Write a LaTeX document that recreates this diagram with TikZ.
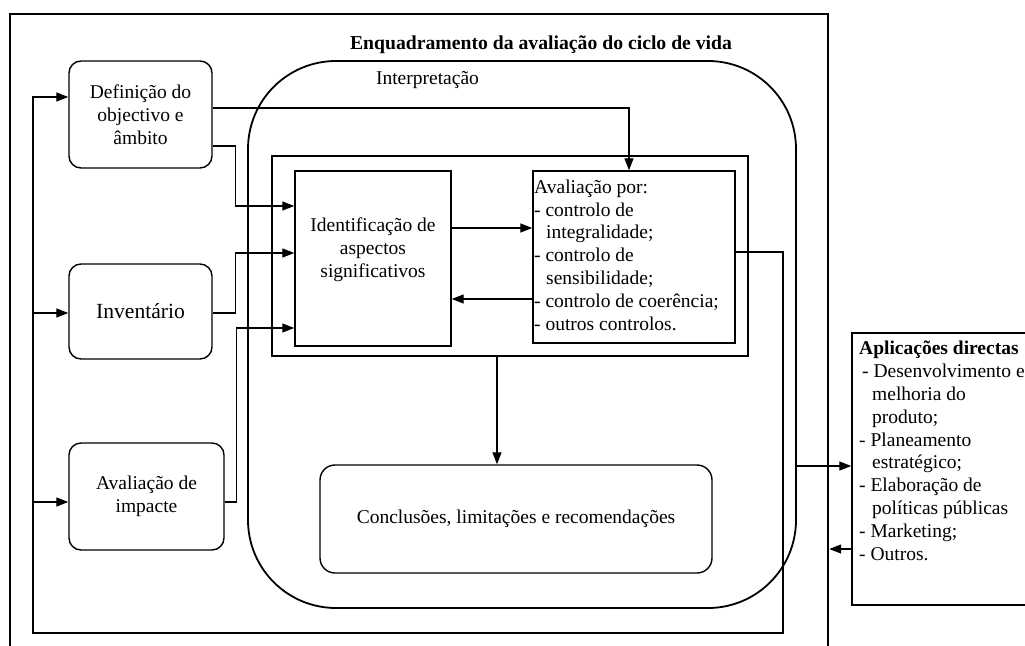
\documentclass[tikz,border=0pt]{standalone}
\usepackage{fontspec}
\setmainfont{Liberation Serif}
\usetikzlibrary{arrows.meta,calc}
\begin{document}
\begin{tikzpicture}[x=1pt,y=-1pt,
  txt/.style={font=\fontsize{19.5}{22.8}\selectfont, inner sep=0pt},
  arr/.style={-{Triangle[length=12pt,width=9pt]}, line width=1.3pt},
  rbox/.style={draw, line width=1.4pt, rounded corners=12pt, txt, align=center},
  sbox/.style={draw, line width=1.4pt, inner sep=0pt},
]
\clip (0,0) rectangle (1025,645);
\fill[white] (0,0) rectangle (1025,645);

% outer frame
\node[draw, line width=2.4pt, minimum width=818pt, minimum height=646pt, inner sep=0pt] (outer) at (419,337) {};
\node[txt, anchor=base, font=\fontsize{19.7}{22.8}\selectfont\bfseries] (title) at (541,49) {Enquadramento da avaliação do ciclo de vida};

% interpretation rounded frame
\node[draw, line width=1.8pt, rounded corners=88pt, minimum width=548pt, minimum height=547pt, inner sep=0pt] (interp) at (522,334.5) {};
\node[txt, anchor=base] (interplbl) at (427.5,84) {Interpretação};

% left boxes
\node[rbox, minimum width=143pt, minimum height=107pt] (def) at (140.5,114.5) {Definição do\\objectivo e\\âmbito};
\node[rbox, minimum width=143pt, minimum height=95pt, font=\fontsize{21.6}{24}\selectfont] (inv) at (140.5,311.5) {Inventário};
\node[rbox, minimum width=155pt, minimum height=107pt] (imp) at (146.5,496.5) {Avaliação de\\impacte};

% inner frame and boxes
\node[draw, line width=1.3pt, minimum width=476pt, minimum height=200pt, inner sep=0pt] (frame) at (510,256) {};
\node[sbox, minimum width=156pt, minimum height=175pt] (ident) at (373,258.5) {};
\node[txt, align=center] (identlbl) at (373,249.5) {Identificação de\\aspectos\\significativos};
\node[sbox, minimum width=202pt, minimum height=172pt] (aval) at (634,257) {};
\node[txt, align=left, anchor=base west] (avallbl) at (534,330) {Avaliação por:\\- controlo de\\\hspace*{12pt}integralidade;\\- controlo de\\\hspace*{12pt}sensibilidade;\\- controlo de coerência;\\- outros controlos.};

\node[rbox, rounded corners=15pt, minimum width=392pt, minimum height=108pt] (concl) at (516,519) {Conclusões, limitações e recomendações};

% applications box
\node[sbox, minimum width=188pt, minimum height=272pt] (apl) at (946,469) {};
\node[txt, align=left, anchor=base west] (apllbl) at (859,560) {\textbf{Aplicações directas}\\\hspace*{3pt}- Desenvolvimento e\\\hspace*{13pt}melhoria do\\\hspace*{13pt}produto;\\- Planeamento\\\hspace*{13pt}estratégico;\\- Elaboração de\\\hspace*{13pt}políticas públicas\\- Marketing;\\- Outros.};

% connectors
\coordinate (d1) at ([yshift=6.5pt]def.east);
\draw[arr] (d1) -| ([xshift=-5pt]aval.north);
\coordinate (d2) at ([yshift=-31.5pt]def.east);
\coordinate (i1) at ([yshift=52.5pt]ident.west);
\draw[arr] (d2) -- ++(23,0) |- (i1);
\coordinate (i2) at ([yshift=5.5pt]ident.west);
\coordinate (n1) at ([yshift=-1.5pt]inv.east);
\draw[arr] (n1) -- ++(23,0) |- (i2);
\coordinate (m1) at ([yshift=-5.5pt]imp.east);
\coordinate (i3) at ([yshift=-69.5pt]ident.west);
\draw[arr] (m1) -- ++(12,0) |- (i3);

\coordinate (ia) at ([yshift=30.5pt]ident.east);
\draw[arr] (ia) -- (ia -| aval.west);
\coordinate (ai) at ([yshift=-42pt]aval.west);
\draw[arr] (ai) -- (ai -| ident.east);
\coordinate (fc) at ([xshift=-13pt]frame.south);
\draw[arr] (fc) -- (fc |- concl.north);

% feedback loop
\coordinate (busR) at (783,633);
\coordinate (busL) at (33,633);
\coordinate (av) at ([yshift=5pt]aval.east);
\draw[arr] (av) -| (busR) -- (busL) |- ([yshift=17.5pt]def.west);
\coordinate (nin) at ([yshift=-1.5pt]inv.west);
\draw[arr] (busL |- nin) -- (nin);
\coordinate (impin) at ([yshift=-5.5pt]imp.west);
\draw[arr] (busL |- impin) -- (impin);

% to / from applications
\coordinate (ip) at ([yshift=-131.5pt]interp.east);
\draw[arr] (ip) -- (ip -| apl.west);
\coordinate (ap) at ([yshift=-80pt]apl.west);
\draw[arr] (ap) -- (ap -| outer.east);
\end{tikzpicture}
\end{document}
